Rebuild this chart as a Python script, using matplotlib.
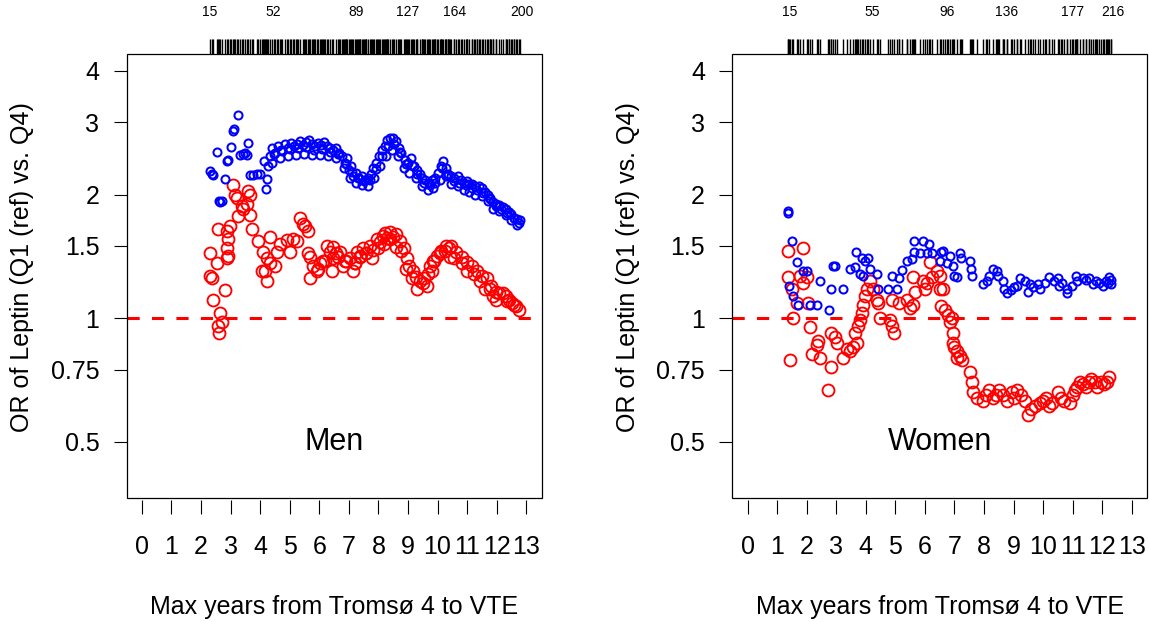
import numpy as np
import matplotlib
matplotlib.use("Agg")
import matplotlib.pyplot as plt
from matplotlib.patches import Rectangle

plt.rcParams['font.family'] = ['Liberation Sans', 'DejaVu Sans']

# ---- Men: blue series (x = max years, OR) ----
men_blue_x = [2.30, 2.36, 2.40, 2.53, 2.60, 2.64, 2.70, 2.80, 2.87, 2.91,
              3.01, 3.07, 3.11, 3.24, 3.31, 3.41, 3.48, 3.55, 3.58, 3.65,
              3.75, 3.89, 3.99, 4.12, 4.19, 4.22, 4.26,
              4.32, 4.39, 4.49, 4.59, 4.70, 4.83, 4.93, 5.03, 5.14, 5.24,
              5.34, 5.44, 5.54, 5.64, 5.74, 5.84, 5.95, 6.05, 6.15, 6.25,
              6.35, 6.45, 6.55, 6.66, 6.76, 6.86, 6.93, 6.99, 7.06, 7.13,
              7.23, 7.33, 7.43, 7.53, 7.64, 7.74, 7.80, 7.91, 8.01, 8.11,
              8.21, 8.28, 8.38, 8.48, 8.58, 8.68, 8.78, 8.89, 8.99, 9.09,
              9.19, 9.29, 9.39, 9.49, 9.59, 9.70, 9.80, 9.90, 10.00, 10.10,
              10.17, 10.27, 10.37, 10.47, 10.57, 10.68, 10.78, 10.88, 10.98, 11.08,
              11.18, 11.28, 11.39, 11.49, 11.59, 11.69, 11.79, 11.89, 11.99, 12.09,
              12.20, 12.30, 12.40, 12.50, 12.60, 12.70, 12.80,
              4.39, 4.66, 4.93, 5.20, 5.47, 5.74, 6.01, 6.28, 6.55, 6.82,
              7.03, 7.23, 7.43, 7.64, 7.84, 8.04, 8.24, 8.45, 8.65, 8.85,
              9.05, 9.26, 9.46, 9.66, 9.86, 10.07, 10.27, 10.47, 10.68, 10.88,
              11.08, 11.28, 11.49, 11.69, 11.89, 12.09, 12.30, 12.50, 12.70,
              4.46, 4.73, 5.00, 5.27, 5.54, 5.81, 6.08, 6.35, 6.62, 6.89,
              7.09, 7.30, 7.50, 7.70, 7.91, 8.11, 8.31, 8.51, 8.72, 8.92,
              9.12, 9.32, 9.53, 9.73, 9.93, 10.14, 10.34, 10.54, 10.74, 10.95,
              11.15, 11.35, 11.55, 11.76, 11.96, 12.16, 12.36, 12.57, 12.77]
men_blue_or = [2.28, 2.25, 2.23, 2.54, 1.93, 1.92, 1.93, 2.18, 2.41, 2.43,
               2.61, 2.86, 2.89, 3.13, 2.50, 2.51, 2.53, 2.50, 2.67, 2.23,
               2.23, 2.24, 2.24, 2.41, 2.06, 2.18, 2.35,
               2.48, 2.60, 2.53, 2.63, 2.57, 2.66, 2.60, 2.67, 2.63, 2.66,
               2.70, 2.64, 2.69, 2.72, 2.66, 2.63, 2.67, 2.64, 2.69, 2.63,
               2.60, 2.57, 2.60, 2.53, 2.48, 2.39, 2.46, 2.29, 2.35, 2.22,
               2.26, 2.19, 2.22, 2.17, 2.19, 2.24, 2.32, 2.39, 2.48, 2.57,
               2.63, 2.72, 2.75, 2.75, 2.70, 2.60, 2.53, 2.43, 2.39, 2.46,
               2.35, 2.29, 2.24, 2.19, 2.17, 2.14, 2.17, 2.19, 2.26, 2.35,
               2.42, 2.32, 2.24, 2.22, 2.19, 2.22, 2.17, 2.14, 2.16, 2.12,
               2.12, 2.10, 2.10, 2.07, 2.03, 2.00, 1.96, 1.92, 1.90, 1.89,
               1.87, 1.85, 1.81, 1.79, 1.75, 1.74, 1.73,
               2.39, 2.46, 2.48, 2.50, 2.51, 2.50, 2.50, 2.48, 2.46, 2.32,
               2.19, 2.13, 2.11, 2.10, 2.19, 2.35, 2.48, 2.57, 2.48, 2.32,
               2.26, 2.19, 2.10, 2.05, 2.07, 2.17, 2.22, 2.12, 2.10, 2.05,
               2.03, 2.00, 1.98, 1.93, 1.85, 1.82, 1.78, 1.73, 1.69,
               2.51, 2.55, 2.58, 2.60, 2.61, 2.57, 2.58, 2.54, 2.51, 2.37,
               2.27, 2.19, 2.16, 2.17, 2.31, 2.48, 2.63, 2.66, 2.54, 2.37,
               2.36, 2.24, 2.14, 2.11, 2.14, 2.32, 2.23, 2.16, 2.14, 2.11,
               2.07, 2.05, 2.02, 1.95, 1.88, 1.85, 1.80, 1.75, 1.71]

# ---- Men: red series ----
men_red_x = [2.30, 2.30, 2.36, 2.40, 2.53, 2.57, 2.57, 2.60, 2.64, 2.70,
             2.80, 2.87, 2.87, 2.87, 2.91, 2.91, 2.97, 3.07, 3.14, 3.21,
             3.24, 3.38, 3.41, 3.55, 3.58, 3.65, 3.65, 3.72, 3.92, 4.05,
             4.09, 4.16, 4.22, 4.22, 4.32, 4.32, 4.49, 4.56, 4.66, 4.90,
             5.00, 5.10, 5.24, 5.34, 5.44, 5.51, 5.61, 5.61, 5.68, 5.68,
             5.78, 5.91, 6.01, 6.11, 6.25, 6.35, 6.45, 6.45, 6.55, 6.69,
             6.79, 6.90, 7.03, 7.13, 7.20, 7.26, 7.37, 7.47, 7.58, 7.70,
             7.80, 7.94, 8.04, 8.14, 8.21, 8.30, 8.38, 8.48, 8.58, 8.72,
             8.85, 8.95, 9.05, 9.16, 9.26, 9.39, 9.50, 9.63, 9.73, 9.80,
             9.87, 9.97, 10.13, 10.30, 10.40, 10.47, 10.64, 10.81, 10.98, 11.15,
             11.32, 11.49, 11.66, 11.76, 11.86, 11.99, 12.09, 12.33, 12.43, 12.53,
             12.65, 12.77,
             5.95, 6.18, 6.42, 6.62, 6.86, 7.20, 7.36, 7.57, 7.77, 7.97,
             8.18, 8.38, 8.58, 8.78, 8.92, 9.12, 9.32, 9.53, 9.66, 9.86,
             10.07, 10.24, 10.41, 10.57, 10.81, 11.01, 11.22, 11.42, 11.59, 11.82,
             11.99, 12.20, 12.36, 12.57]
men_red_or = [1.44, 1.27, 1.25, 1.11, 1.36, 1.65, 0.96, 0.92, 1.03, 0.98,
              1.17, 1.63, 1.48, 1.40, 1.56, 1.42, 1.68, 2.11, 2.00, 1.96,
              1.77, 1.88, 1.85, 1.90, 2.04, 2.00, 1.78, 1.65, 1.54, 1.30,
              1.45, 1.30, 1.40, 1.23, 1.36, 1.58, 1.34, 1.45, 1.52, 1.55,
              1.45, 1.56, 1.54, 1.75, 1.70, 1.68, 1.63, 1.44, 1.41, 1.25,
              1.34, 1.30, 1.36, 1.38, 1.50, 1.45, 1.49, 1.40, 1.44, 1.45,
              1.34, 1.38, 1.40, 1.30, 1.36, 1.45, 1.42, 1.48, 1.44, 1.50,
              1.47, 1.56, 1.53, 1.59, 1.61, 1.57, 1.62, 1.58, 1.60, 1.54,
              1.48, 1.40, 1.34, 1.30, 1.26, 1.23, 1.22, 1.20, 1.34, 1.30,
              1.38, 1.42, 1.46, 1.50, 1.48, 1.50, 1.45, 1.41, 1.37, 1.34,
              1.30, 1.27, 1.25, 1.18, 1.13, 1.16, 1.15, 1.13, 1.11, 1.09,
              1.07, 1.05,
              1.32, 1.38, 1.30, 1.41, 1.38, 1.36, 1.41, 1.44, 1.40, 1.48,
              1.52, 1.56, 1.49, 1.46, 1.32, 1.25, 1.18, 1.25, 1.28, 1.38,
              1.44, 1.46, 1.41, 1.40, 1.36, 1.30, 1.28, 1.23, 1.18, 1.20,
              1.11, 1.15, 1.10, 1.08]

# ---- Women: blue series ----
women_blue_x = [1.36, 1.38, 1.40, 1.50, 1.53, 1.67, 1.70, 1.87, 2.00, 2.10,
                2.34, 2.44, 2.75, 2.81, 2.88, 2.95, 3.22, 3.46, 3.62, 3.66,
                3.79, 3.86, 3.90, 3.96, 4.06, 4.13, 4.37, 4.40, 4.74, 4.87,
                5.04, 5.11, 5.21, 5.38, 5.55, 5.62, 5.62, 5.82, 5.92, 6.06,
                6.13, 6.23, 6.50, 6.56, 6.60, 6.73, 6.84, 6.94, 7.00, 7.07,
                7.17, 7.21, 7.51, 7.55, 7.58, 7.95, 8.09, 8.18, 8.29, 8.43,
                8.46, 8.63, 8.69, 8.79, 8.90, 9.00, 9.10, 9.20, 9.37, 9.47,
                9.55, 9.64, 9.81, 9.88, 10.05, 10.21, 10.38, 10.49, 10.55, 10.65,
                10.79, 10.82, 10.99, 11.12, 11.16, 11.33, 11.45, 11.56, 11.67, 11.80,
                11.90, 12.01, 12.14, 12.20, 12.24, 12.28, 12.31]
women_blue_or = [1.82, 1.80, 1.20, 1.54, 1.13, 1.37, 1.08, 1.30, 1.30, 1.08,
                 1.08, 1.23, 1.05, 1.18, 1.34, 1.34, 1.18, 1.32, 1.33, 1.45,
                 1.28, 1.40, 1.27, 1.38, 1.40, 1.32, 1.28, 1.18, 1.18, 1.27,
                 1.18, 1.25, 1.31, 1.38, 1.39, 1.54, 1.45, 1.44, 1.54, 1.44,
                 1.52, 1.44, 1.38, 1.45, 1.46, 1.36, 1.42, 1.34, 1.27, 1.26,
                 1.44, 1.40, 1.38, 1.32, 1.27, 1.21, 1.23, 1.27, 1.32, 1.30,
                 1.27, 1.23, 1.18, 1.15, 1.17, 1.19, 1.20, 1.25, 1.23, 1.16,
                 1.21, 1.19, 1.21, 1.18, 1.22, 1.26, 1.23, 1.25, 1.20, 1.22,
                 1.15, 1.18, 1.20, 1.27, 1.23, 1.25, 1.24, 1.25, 1.21, 1.23,
                 1.22, 1.20, 1.23, 1.22, 1.26, 1.24, 1.21]

# ---- Women: red series ----
women_red_x = [1.36, 1.36, 1.43, 1.50, 1.53, 1.67, 1.77, 1.87, 1.87, 2.00,
               2.04, 2.10, 2.17, 2.34, 2.38, 2.44, 2.71, 2.81, 2.84, 2.95,
               3.02, 3.22, 3.36, 3.46, 3.56, 3.62, 3.69, 3.73, 3.79, 3.86,
               3.90, 3.96, 4.03, 4.13, 4.23, 4.37, 4.40, 4.47, 4.81, 4.87,
               4.87, 4.97, 5.14, 5.41, 5.48, 5.58, 5.58, 5.65, 5.92, 5.99,
               6.06, 6.16, 6.23, 6.40, 6.50, 6.50, 6.56, 6.60, 6.67, 6.77,
               6.84, 6.91, 6.94, 6.94, 7.00, 7.07, 7.07, 7.17, 7.24, 7.51,
               7.58, 7.61, 7.75, 7.95, 8.05, 8.18, 8.29, 8.40, 8.52, 8.65,
               8.76, 8.93, 9.00, 9.13, 9.25, 9.37, 9.47, 9.60, 9.71, 9.88,
               10.00, 10.11, 10.20, 10.31, 10.49, 10.60, 10.72, 10.89, 11.00, 11.06,
               11.15, 11.23, 11.35, 11.46, 11.55, 11.63, 11.75, 11.83, 11.95, 12.07,
               12.15, 12.24]
women_red_or = [1.46, 1.26, 0.79, 1.18, 1.00, 1.09, 1.27, 1.22, 1.48, 1.26,
                1.09, 0.95, 0.82, 0.86, 0.88, 0.80, 0.67, 0.76, 0.92, 0.90,
                0.87, 0.80, 0.84, 0.83, 0.85, 0.92, 0.87, 0.96, 0.99, 1.03,
                1.08, 1.13, 1.18, 1.23, 1.18, 1.11, 1.09, 1.00, 0.99, 0.96,
                1.11, 0.92, 1.09, 1.11, 1.06, 1.08, 1.26, 1.16, 1.23, 1.18,
                1.22, 1.37, 1.26, 1.30, 1.27, 1.18, 1.07, 1.18, 1.05, 1.02,
                0.98, 1.00, 0.92, 0.87, 0.85, 0.80, 0.83, 0.81, 0.79, 0.74,
                0.70, 0.66, 0.64, 0.63, 0.65, 0.67, 0.64, 0.65, 0.67, 0.65,
                0.63, 0.66, 0.64, 0.67, 0.65, 0.63, 0.58, 0.60, 0.61, 0.62,
                0.63, 0.64, 0.61, 0.62, 0.66, 0.64, 0.63, 0.62, 0.65, 0.67,
                0.68, 0.70, 0.69, 0.68, 0.70, 0.71, 0.70, 0.68, 0.70, 0.69,
                0.70, 0.72]

# cumulative event counts shown above the rug
men_count_at = [2.30, 4.43, 7.26, 8.99, 10.57, 12.87]
men_count_lab = ['15', '52', '89', '127', '164', '200']
women_count_at = [1.43, 4.20, 6.74, 8.76, 10.99, 12.34]
women_count_lab = ['15', '55', '96', '136', '177', '216']

yticks = [0.5, 0.75, 1, 1.5, 2, 3, 4]
ytick_labels = ['0.5', '0.75', '1', '1.5', '2', '3', '4']


def panel(ax, bx, by, rx, ry, count_at, count_lab, title):
    ax.set_yscale('log')
    ax.plot(bx, by, 'o', mfc='none', mec='blue', ms=5.8, mew=1.45, zorder=3)
    ax.plot(rx, ry, 'o', mfc='none', mec='red', ms=8.6, mew=1.35, zorder=2)
    ax.axhline(1, color='red', lw=2.2, ls=(0, (4, 4)), zorder=4)

    ax.set_xlim(-0.52, 13.52)
    ax.set_ylim(0.365, 4.4)
    ax.set_xticks(range(14))
    ax.set_yticks(yticks)
    ax.set_yticklabels(ytick_labels)
    ax.minorticks_off()
    ax.tick_params(axis='x', direction='out', length=10, width=0.8, pad=15, labelsize=18)
    ax.tick_params(axis='y', direction='out', length=9.5, width=0.8, pad=10, labelsize=18)

    for s in ax.spines.values():
        s.set_visible(False)
    ax.spines['bottom'].set_position(('outward', 1.5))
    ax.add_patch(Rectangle((0, 0), 1, 1, transform=ax.transAxes, fill=False,
                           lw=0.9, ec='black', clip_on=False, zorder=5))

    # rug of event times above the box
    events = np.union1d(bx, rx)
    ax.vlines(events, 1.0, 1.0345, transform=ax.get_xaxis_transform(),
              color='black', lw=1.0, clip_on=False)
    for x, lab in zip(count_at, count_lab):
        ax.text(x, 1.0946, lab, transform=ax.get_xaxis_transform(),
                ha='center', va='center', fontsize=10)

    ax.text(6.5, 0.5, title, ha='center', va='center', fontsize=22)
    ax.text(0.5, -0.2455, 'Max years from Tromsø 4 to VTE', transform=ax.transAxes,
            ha='center', va='center', fontsize=18)
    ax.text(-0.2517, 0.52, 'OR of Leptin (Q1 (ref) vs. Q4)', transform=ax.transAxes,
            ha='center', va='center', rotation=90, fontsize=18)


fig = plt.figure(figsize=(11.49, 6.22), dpi=100)
ax1 = fig.add_axes([0.1101, 0.1994, 0.3613, 0.7138])
ax2 = fig.add_axes([0.6372, 0.1994, 0.3613, 0.7138])

panel(ax1, men_blue_x, men_blue_or, men_red_x, men_red_or,
      men_count_at, men_count_lab, 'Men')
panel(ax2, women_blue_x, women_blue_or, women_red_x, women_red_or,
      women_count_at, women_count_lab, 'Women')

fig.savefig('out.png', dpi=100)
